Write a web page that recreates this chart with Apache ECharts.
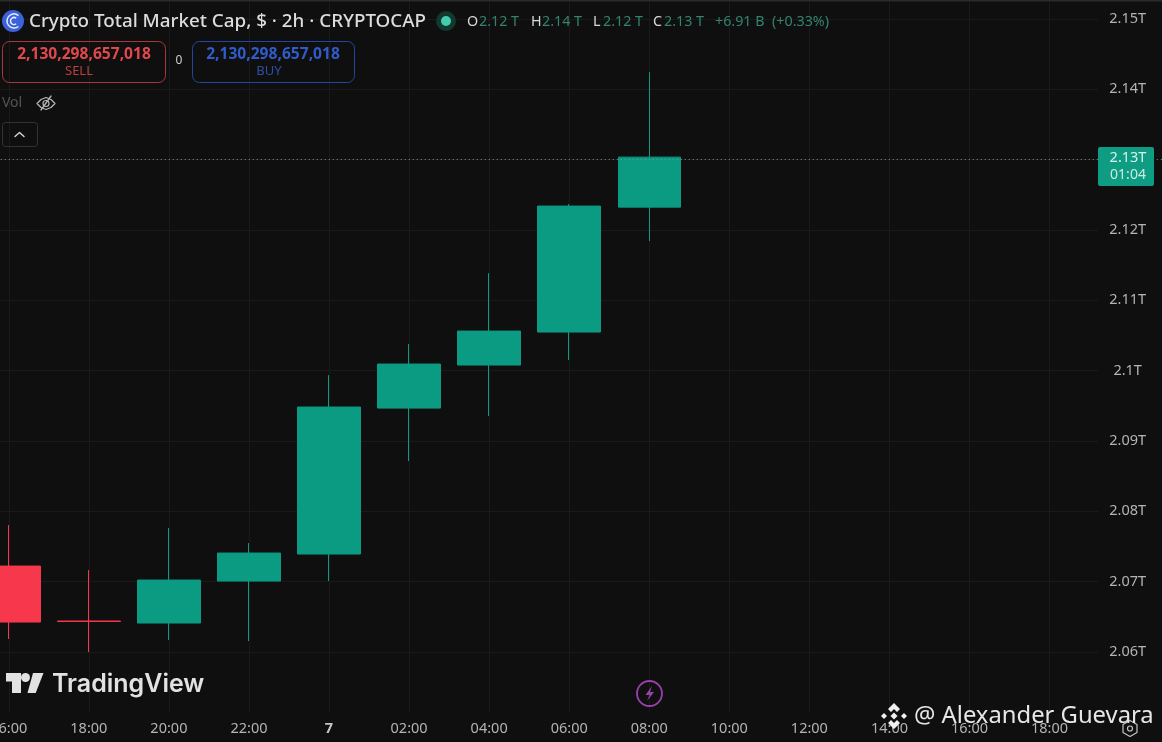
<!DOCTYPE html>
<html>
<head>
<meta charset="utf-8">
<style>html,body{margin:0;padding:0;background:#0f0f0f}#c{width:1162px;height:742px}</style>
<script src="https://cdn.jsdelivr.net/npm/echarts@6/dist/echarts.min.js"></script>
</head>
<body>
<div id="c"></div>
<script>
const categories = ['16:00','18:00','20:00','22:00','7','02:00','04:00','06:00','08:00','10:00','12:00','14:00','16:00','18:00',''];
const opens  = [2.07222,2.06441,2.06412,2.07009,2.07393,2.09468,2.1008,2.10549,2.12325];
const closes = [2.06426,2.06434,2.07023,2.07407,2.09483,2.10094,2.10563,2.1234,2.13036];
const lows   = [2.06185,2.06,2.06171,2.06156,2.07009,2.08715,2.09355,2.10151,2.11842];
const highs  = [2.07805,2.07166,2.07763,2.07549,2.09937,2.10378,2.11387,2.12368,2.14244];
const yTickValues = [2.06,2.07,2.08,2.09,2.1,2.11,2.12,2.13,2.14,2.15];
const yTickLabels = ['2.06T','2.07T','2.08T','2.09T','2.1T','2.11T','2.12T','2.13T','2.14T','2.15T'];
const lastPrice = 2.13036;

const BG = '#0f0f0f', GRID = '#1a1a1a', UP = '#0a9b82', DOWN = '#f7374b';
const FONT = '"Noto Sans", sans-serif';
const candles = opens.map((o, i) => [o, closes[i], lows[i], highs[i]]);

function t(text, x, y, size, fill, weight, align, family) {
  return {type:'text', z:12, silent:true, style:{text, x, y, fill,
    font:(weight||'normal')+' '+size+'px '+(family||FONT),
    textAlign:align||'left', textVerticalAlign:'middle'}};
}
function box(x, y, w, h, r, stroke, fill, z) {
  return {type:'rect', z:z||11, silent:true, shape:{x,y,width:w,height:h,r},
    style:{fill:fill||'transparent', stroke:stroke||null, lineWidth:stroke?1:0}};
}
function poly(points, fill, z) {
  return {type:'polygon', z:z||12, silent:true, shape:{points}, style:{fill}};
}
function pline(points, stroke, lw) {
  return {type:'polyline', z:12, silent:true, shape:{points}, style:{fill:'none', stroke, lineWidth:lw||1, lineCap:'round', lineJoin:'round'}};
}
function arc(cx, cy, r, a0, a1, stroke, lw) {
  return {type:'arc', z:12, silent:true, shape:{cx,cy,r,startAngle:a0,endAngle:a1}, style:{fill:'none', stroke, lineWidth:lw||1}};
}
function circle(cx, cy, r, fill, stroke, lw, z) {
  return {type:'circle', z:z||12, silent:true, shape:{cx,cy,r},
    style:{fill:fill||'none', stroke:stroke||'none', lineWidth:lw||1}};
}

const graphics = [
  // price-scale pane and time-scale band
  box(1098,0,64,742,0,null,BG,3),
  box(0,712,1162,30,0,null,BG,3),
  box(0,0,1162,1.5,0,null,'#2b2b2b',4),
  // header
  circle(13,21,11,'#3b62d9'),
  arc(14,21,7,0.9,5.4,'#e8ecff',1.5),
  arc(14,21,3.5,0.9,5.4,'#e8ecff',1.5),
  t('Crypto Total Market Cap, $ · 2h · CRYPTOCAP',29,22,18.8,'#dcdcdc','500'),
  circle(446,21,10,'#12382f'),
  circle(446,21,5,'#43ccb0'),
  t('O',467,21.5,14.3,'#d8d8d8'), t('2.12 T',479,21.5,14.3,'#33836f'),
  t('H',531,21.5,14.3,'#d8d8d8'), t('2.14 T',542,21.5,14.3,'#33836f'),
  t('L',593,21.5,14.3,'#d8d8d8'), t('2.12 T',603,21.5,14.3,'#33836f'),
  t('C',653,21.5,14.3,'#d8d8d8'), t('2.13 T',664,21.5,14.3,'#33836f'),
  t('+6.91 B',715,21.5,14.3,'#33836f'), t('(+0.33%)',772,21.5,14.3,'#33836f'),
  // sell / buy
  box(2.5,41.5,163,41,7,'#a8383c'),
  t('2,130,298,657,018',84,54.5,15.6,'#e0484c','bold','center'),
  t('SELL',79,71,13,'#b8403f','normal','center'),
  t('0',179,61,12,'#cfcfcf','normal','center'),
  box(192.5,41.5,162,41,7,'#23479c'),
  t('2,130,298,657,018',273,54.5,15.6,'#2f5cc8','bold','center'),
  t('BUY',269,71,13,'#2c4fa8','normal','center'),
  // vol
  t('Vol',2,103.5,14,'#555555'),
  pline([[37,103.5],[41,99.5],[46,97.5],[51,99.5],[55,103.5],[51,107.5],[46,109.5],[41,107.5],[37,103.5]],'#b5b5b5',1.3),
  pline([[41,110],[51,96]],'#b5b5b5',1.3),
  circle(46,103.5,3,null,'#b5b5b5',1.2),
  box(2.5,122.5,35,24,3,'#333333'),
  pline([[15,136.5],[19.5,132.5],[24,136.5]],'#d8d8d8',1.4),
  // last price tag
  box(1098,147,56,39,2,null,'#0e9c83',10),
  t('2.13T',1128,157.5,14.5,'#d9f3ed','normal','center'),
  t('01:04',1128,175.5,14,'#c9ebe3','normal','center'),
  // TradingView logo
  poly([[6,673],[21,673],[21,693],[12,693],[12,681.5],[6,681.5]],'#e2e2e2'),
  circle(25.5,677.5,4.5,'#e2e2e2'),
  poly([[33,673],[43.5,673],[35.7,693],[27.5,693]],'#e2e2e2'),
  t('TradingView',52,684,25,'#e2e2e2','600','left','Inter, sans-serif'),
  // bolt
  circle(649.5,693.5,12.5,null,'#9a3fb0',1.8),
  poly([[652,686],[645.5,695],[649.5,695],[647,701],[654,692],[650,692]],'#9a3fb0'),
  // gear
  pline([[1130,720.5],[1137,724.5],[1137,732.5],[1130,736.5],[1123,732.5],[1123,724.5],[1130,720.5]],'#c4c4c4',1.2),
  circle(1130,728.5,2.5,null,'#c4c4c4',1.2),
  // watermark
  poly([[894,703],[900,709],[897,712],[894,709],[891,712],[888,709]],'#f0f0f0',20),
  poly([[894,712.5],[897.5,716],[894,719.5],[890.5,716]],'#f0f0f0',20),
  poly([[881,716],[884,713],[887,716],[884,719]],'#f0f0f0',20),
  poly([[901,716],[904,713],[907,716],[904,719]],'#f0f0f0',20),
  poly([[888,723],[891,720],[894,723],[897,720],[900,723],[894,729]],'#f0f0f0',20),
  Object.assign(t('@ Alexander Guevara',914,716,23.8,'#e6e6e6'),{z:20})
];

const chart = echarts.init(document.getElementById('c'), null, {renderer:'canvas'});
chart.setOption({
  animation:false,
  backgroundColor:BG,
  textStyle:{fontFamily:FONT},
  grid:{left:-31.25, right:-7.65, top:-51.35, bottom:19.65, containLabel:false, outerBoundsMode:'none'},
  xAxis:[
    {type:'category', data:categories, position:'bottom', z:0,
     axisLine:{show:false}, axisTick:{show:false}, axisLabel:{show:false},
     splitLine:{show:true, alignWithLabel:true, lineStyle:{color:GRID, width:1}}},
    {type:'category', data:categories, position:'bottom', z:5,
     axisLine:{show:false}, axisTick:{show:false}, splitLine:{show:false},
     axisLabel:{show:true, interval:0, margin:-1, color:'#b4b4b4', fontSize:14.5, fontFamily:FONT,
       formatter:v => v === '7' ? '{b|7}' : v, rich:{b:{fontWeight:'bold', fontSize:14.5, color:'#c4c4c4'}}}}
  ],
  yAxis:[
    {type:'value', min:2.05, max:2.16, interval:0.01, position:'right', z:0, scale:true,
     axisLine:{show:false}, axisTick:{show:false}, axisLabel:{show:false},
     splitLine:{show:true, lineStyle:{color:GRID, width:1}}},
    {type:'value', min:2.05, max:2.16, interval:0.01, position:'right', z:5, scale:true,
     axisLine:{show:false}, axisTick:{show:false}, splitLine:{show:false},
     axisLabel:{show:true, inside:true, margin:42, align:'center', color:'#b4b4b4', fontSize:14.5, fontFamily:FONT,
       padding:[2,0,0,0],
       formatter:v => { const i = yTickValues.findIndex(y => Math.abs(y - v) < 1e-6); return i < 0 ? '' : yTickLabels[i]; }}}
  ],
  series:[{
    type:'candlestick', xAxisIndex:0, yAxisIndex:0, z:2, barWidth:63,
    data:candles, silent:true,
    itemStyle:{color:UP, color0:DOWN, borderColor:UP, borderColor0:DOWN, borderWidth:1},
    markLine:{silent:true, symbol:'none', animation:false, label:{show:false},
      lineStyle:{type:[1,3], color:'#7f9690', width:1},
      data:[{yAxis:lastPrice}]}
  }],
  graphic:{elements:graphics}
});
</script>
</body>
</html>
